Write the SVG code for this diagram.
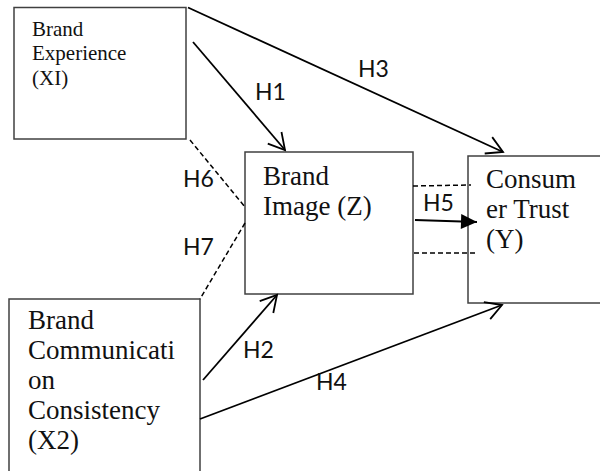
<svg xmlns="http://www.w3.org/2000/svg" width="600" height="471" viewBox="0 0 600 471">
  <style>
    .box { fill: #ffffff; stroke: #404040; stroke-width: 1.5; }
    .lbl { font-family: "Liberation Serif", "Times New Roman", serif; fill: #111111; }
    .big { font-size: 27px; }
    .small { font-size: 21px; }
    .hyp { font-family: Lato, "Liberation Sans", Arial, sans-serif; font-size: 23px; fill: #111111; }
    .path { stroke: #000000; stroke-width: 1.8; fill: none; }
    .dash { stroke: #000000; stroke-width: 1.5; fill: none; stroke-dasharray: 5 3; }
  </style>
  <defs>
    <marker id="open" markerUnits="userSpaceOnUse" viewBox="-20 -20 40 40" markerWidth="40" markerHeight="40" refX="0" refY="0" orient="auto" overflow="visible">
      <path d="M-16,-9 L0,0 L-16,9" fill="none" stroke="#000000" stroke-width="1.8"/>
    </marker>
    <marker id="solid" markerUnits="userSpaceOnUse" viewBox="-20 -20 40 40" markerWidth="40" markerHeight="40" refX="0" refY="0" orient="auto" overflow="visible">
      <path d="M-16,-7.5 L0,0 L-16,7.5 Z" fill="#000000"/>
    </marker>
  </defs>

  <rect width="600" height="471" fill="#ffffff"/>

  <!-- Brand Experience (X1) -->
  <g id="node-x1">
    <rect class="box" x="14" y="7.5" width="172" height="131.5"/>
    <text class="lbl small" x="32" y="36">Brand</text>
    <text class="lbl small" x="32" y="60">Experience</text>
    <text class="lbl small" x="32" y="85">(XI)</text>
  </g>

  <!-- Brand Image (Z) -->
  <g id="node-z">
    <rect class="box" x="245" y="152" width="168" height="142"/>
    <text class="lbl big" x="263" y="185">Brand</text>
    <text class="lbl big" x="263" y="215">Image (Z)</text>
  </g>

  <!-- Consumer Trust (Y) -->
  <g id="node-y">
    <rect class="box" x="468" y="156" width="150" height="147"/>
    <text class="lbl big" x="486" y="188">Consum</text>
    <text class="lbl big" x="486" y="218">er Trust</text>
    <text class="lbl big" x="486" y="248">(Y)</text>
  </g>

  <!-- Brand Communication Consistency (X2) -->
  <g id="node-x2">
    <rect class="box" x="9" y="299" width="191" height="190"/>
    <text class="lbl big" x="28" y="329">Brand</text>
    <text class="lbl big" x="28" y="359">Communicati</text>
    <text class="lbl big" x="28" y="389">on</text>
    <text class="lbl big" x="28" y="419">Consistency</text>
    <text class="lbl big" x="28" y="449">(X2)</text>
  </g>

  <!-- hypothesis paths -->
  <g id="connectors">
    <line class="path" x1="193" y1="42" x2="285" y2="150" marker-end="url(#open)"/>
    <line class="path" x1="188" y1="7.5" x2="503" y2="152" marker-end="url(#open)"/>
    <line class="path" x1="203" y1="380" x2="277" y2="295" marker-end="url(#open)"/>
    <line class="path" x1="200" y1="419" x2="502" y2="305" marker-end="url(#open)"/>
    <line class="path" x1="415" y1="220" x2="477" y2="222" marker-end="url(#solid)"/>
    <!-- moderation paths -->
    <line class="dash" x1="190" y1="140" x2="245" y2="207"/>
    <line class="dash" x1="245" y1="223" x2="200" y2="299"/>
    <line class="dash" x1="413" y1="186" x2="471" y2="185"/>
    <line class="dash" x1="414" y1="253" x2="476" y2="253"/>
  </g>

  <!-- hypothesis labels -->
  <g id="labels">
    <text class="hyp" x="255" y="100">H1</text>
    <text class="hyp" x="358" y="77">H3</text>
    <text class="hyp" x="183" y="187">H6</text>
    <text class="hyp" x="183" y="255">H7</text>
    <text class="hyp" x="423" y="211">H5</text>
    <text class="hyp" x="243" y="358">H2</text>
    <text class="hyp" x="316" y="390">H4</text>
  </g>
</svg>
